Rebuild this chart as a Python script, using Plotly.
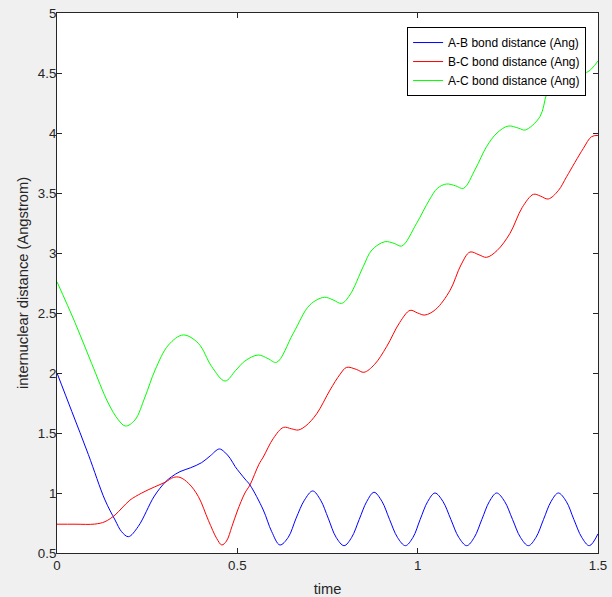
import plotly.graph_objects as go

# A-B bond distance
t_ab = [0, 0.041, 0.087, 0.133, 0.161, 0.179, 0.198, 0.225, 0.270, 0.300, 0.318, 0.341,
        0.370, 0.401, 0.425, 0.450, 0.465, 0.480, 0.494, 0.521, 0.535, 0.572, 0.595,
        0.618, 0.641, 0.663, 0.686, 0.709, 0.731, 0.752, 0.774, 0.796, 0.817, 0.838,
        0.859, 0.879, 0.901, 0.922, 0.944, 0.966, 0.987, 1.007, 1.028, 1.048, 1.070,
        1.092, 1.114, 1.136, 1.157, 1.178, 1.199, 1.219, 1.241, 1.263, 1.285, 1.307,
        1.328, 1.349, 1.370, 1.390, 1.412, 1.433, 1.455, 1.476, 1.500]
ab = [2.00, 1.68, 1.32, 0.942, 0.775, 0.678, 0.636, 0.72, 0.975, 1.09, 1.136, 1.178,
      1.21, 1.253, 1.31, 1.367, 1.34, 1.289, 1.22, 1.117, 1.067, 0.858, 0.68,
      0.567, 0.63, 0.79, 0.94, 1.017, 0.94, 0.79, 0.63, 0.561, 0.63, 0.78,
      0.93, 1.006, 0.93, 0.78, 0.63, 0.561, 0.63, 0.78, 0.93, 1.0, 0.93,
      0.78, 0.63, 0.561, 0.63, 0.78, 0.93, 1.0, 0.93, 0.78, 0.63, 0.561,
      0.63, 0.78, 0.93, 1.0, 0.93, 0.78, 0.63, 0.561, 0.66]

# B-C bond distance
t_bc = [0, 0.05, 0.105, 0.133, 0.161, 0.180, 0.202, 0.235, 0.270, 0.30, 0.323, 0.341,
        0.365, 0.392, 0.42, 0.443, 0.457, 0.47, 0.485, 0.50, 0.521, 0.535, 0.56,
        0.572, 0.60, 0.628, 0.65, 0.669, 0.69, 0.72, 0.757, 0.785, 0.803, 0.83,
        0.851, 0.88, 0.914, 0.95, 0.979, 1.0, 1.02, 1.05, 1.09, 1.12, 1.145, 1.17,
        1.191, 1.22, 1.256, 1.29, 1.321, 1.34, 1.362, 1.39, 1.413, 1.459, 1.482, 1.50]
bc = [0.74, 0.74, 0.741, 0.761, 0.817, 0.875, 0.94, 1.0, 1.05, 1.09, 1.13, 1.13,
      1.08, 0.97, 0.77, 0.62, 0.567, 0.60, 0.72, 0.85, 1.0, 1.067, 1.24,
      1.30, 1.456, 1.547, 1.535, 1.525, 1.56, 1.66, 1.858, 1.99, 2.047, 2.03,
      2.006, 2.07, 2.22, 2.42, 2.522, 2.50, 2.483, 2.53, 2.69, 2.90, 3.008, 2.985,
      2.964, 3.02, 3.164, 3.38, 3.489, 3.475, 3.45, 3.52, 3.636, 3.87, 3.969, 3.98]

# A-C bond distance
t_ac = [0, 0.05, 0.096, 0.142, 0.17, 0.19, 0.216, 0.244, 0.272, 0.309, 0.350,
        0.392, 0.429, 0.466, 0.495, 0.521, 0.558, 0.585, 0.609, 0.655, 0.701, 0.741,
        0.765, 0.789, 0.812, 0.849, 0.873, 0.909, 0.935, 0.956, 0.997, 1.032, 1.055,
        1.080, 1.105, 1.127, 1.16, 1.191, 1.22, 1.251, 1.28, 1.298, 1.339, 1.358,
        1.376, 1.40, 1.42, 1.445, 1.469, 1.50]
ac = [2.76, 2.42, 2.08, 1.75, 1.61, 1.558, 1.608, 1.80, 2.025, 2.233, 2.317,
      2.247, 2.053, 1.933, 2.02, 2.10, 2.15, 2.12, 2.089, 2.33, 2.567, 2.631,
      2.61, 2.58, 2.65, 2.886, 3.025, 3.094, 3.08, 3.058, 3.247, 3.44, 3.54,
      3.575, 3.56, 3.539, 3.70, 3.886, 4.0, 4.058, 4.04, 4.025, 4.136, 4.33,
      4.44, 4.53, 4.545, 4.52, 4.506, 4.60]

names = ["A-B bond distance (Ang)", "B-C bond distance (Ang)", "A-C bond distance (Ang)"]
colors = ["#0000ff", "#ff0000", "#00ff00"]
x_ticks = [0, 0.5, 1, 1.5]
x_ticklabels = ["0", "0.5", "1", "1.5"]
y_ticks = [0.5, 1, 1.5, 2, 2.5, 3, 3.5, 4, 4.5, 5]
y_ticklabels = ["0.5", "1", "1.5", "2", "2.5", "3", "3.5", "4", "4.5", "5"]

FONT = "Liberation Sans, Arial, Helvetica, sans-serif"
AX = "#262626"

fig = go.Figure()
for tx, ty, nm, col in [(t_ab, ab, names[0], colors[0]),
                        (t_bc, bc, names[1], colors[1]),
                        (t_ac, ac, names[2], colors[2])]:
    fig.add_trace(go.Scatter(x=tx, y=ty, name=nm, mode="lines",
                             line=dict(color=col, width=1, shape="spline", smoothing=1.0)))

axis_common = dict(showgrid=False, zeroline=False, showline=True, linecolor=AX,
                   linewidth=1, ticks="inside", ticklen=5, tickcolor=AX, mirror="ticks",
                   automargin=False,
                   tickfont=dict(family=FONT, size=13.3, color=AX))

fig.update_xaxes(range=[0, 1.5], tickvals=x_ticks, ticktext=x_ticklabels,
                 title=dict(text="time", font=dict(family=FONT, size=14.7, color=AX), standoff=11),
                 **axis_common)
fig.update_yaxes(range=[0.5, 5], tickvals=y_ticks, ticktext=y_ticklabels,
                 ticklabelstandoff=-3,
                 title=dict(text="internuclear distance (Angstrom)",
                            font=dict(family=FONT, size=14.7, color=AX), standoff=5),
                 **axis_common)

fig.update_layout(
    width=612, height=597,
    margin=dict(l=57, r=14, t=13, b=44, autoexpand=False),
    paper_bgcolor="#f0f0f0", plot_bgcolor="#ffffff",
    showlegend=True,
    legend=dict(x=0.978, xanchor="right", y=0.974, yanchor="top",
                bgcolor="#ffffff", bordercolor="#000000", borderwidth=1,
                font=dict(family=FONT, size=12, color="#000000"),
                tracegroupgap=0, itemwidth=30,
                entrywidth=135, entrywidthmode="pixels"),
)

fig.write_html("out.html", config={"displayModeBar": False},
               post_script="document.body.style.margin='0';document.body.style.background='#f0f0f0';")
